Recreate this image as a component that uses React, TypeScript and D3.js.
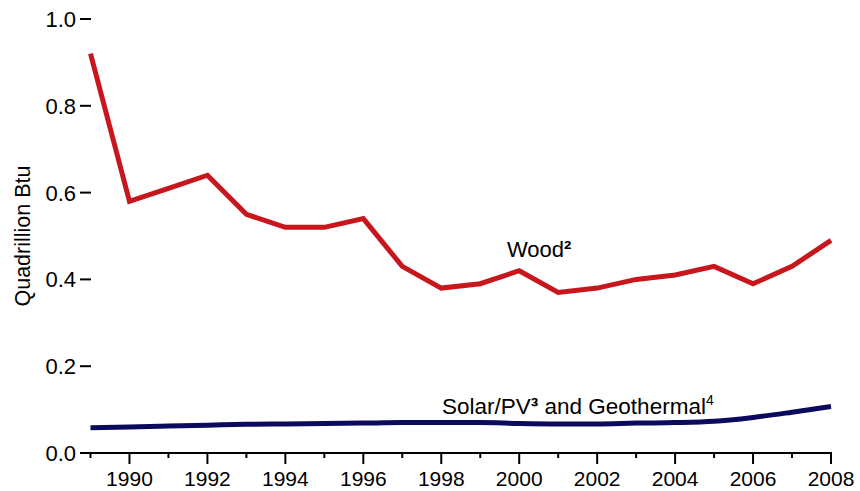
import React from "react";
import * as d3 from "d3";

const years = [1989, 1990, 1991, 1992, 1993, 1994, 1995, 1996, 1997, 1998, 1999, 2000, 2001, 2002, 2003, 2004, 2005, 2006, 2007, 2008];
const wood = [0.92, 0.58, 0.61, 0.64, 0.55, 0.52, 0.52, 0.54, 0.43, 0.38, 0.39, 0.42, 0.37, 0.38, 0.40, 0.41, 0.43, 0.39, 0.43, 0.49];
const solarGeo = [0.058, 0.060, 0.062, 0.064, 0.066, 0.067, 0.068, 0.069, 0.070, 0.070, 0.070, 0.068, 0.067, 0.067, 0.069, 0.070, 0.073, 0.082, 0.094, 0.107];
const yTicks = [0, 0.2, 0.4, 0.6, 0.8, 1.0];
const xLabelYears = [1990, 1992, 1994, 1996, 1998, 2000, 2002, 2004, 2006, 2008];
const yTitle = "Quadrillion Btu";

export default function App() {
  const W = 860, H = 491;
  const x = d3.scaleLinear().domain([1989, 2008]).range([90.5, 831]);
  const y = d3.scaleLinear().domain([0, 1]).range([453, 19]);
  const font = "'Liberation Sans', Arial, sans-serif";

  const woodLine = d3.line<number>().x((_, i) => x(years[i])).y((d) => y(d));
  const solarLine = d3.line<number>().x((_, i) => x(years[i])).y((d) => y(d)).curve(d3.curveMonotoneX);

  return (
    <svg width={W} height={H} style={{ position: "absolute", left: 0, top: 0, background: "#fff" }} fontFamily={font}>
      {yTicks.map((t) => (
        <g key={t}>
          <line x1={80} x2={91} y1={y(t)} y2={y(t)} stroke="#000" strokeWidth={2} />
          <text x={76} y={y(t) + 8} textAnchor="end" fontSize={22} fill="#000">{t.toFixed(1)}</text>
        </g>
      ))}
      <line x1={80} x2={832} y1={y(0)} y2={y(0)} stroke="#000" strokeWidth={2} />
      {years.map((yr) => (
        <line key={yr} x1={x(yr)} x2={x(yr)} y1={y(0)} y2={y(0) + (yr % 2 === 0 ? 11 : 5)} stroke="#000" strokeWidth={2} />
      ))}
      {xLabelYears.map((yr) => (
        <text key={yr} x={x(yr)} y={486} textAnchor="middle" fontSize={21} fill="#000">{yr}</text>
      ))}
      <text transform={`translate(30,236) rotate(-90)`} textAnchor="middle" fontSize={21.5} fill="#000">{yTitle}</text>

      <path d={solarLine(solarGeo) || ""} fill="none" stroke="#0b0b5e" strokeWidth={5} />
      <path d={woodLine(wood) || ""} fill="none" stroke="#c8161d" strokeWidth={5} strokeLinejoin="miter" />

      <text x={507} y={257} fontSize={22} fill="#000">Wood<tspan fontWeight="bold">²</tspan></text>
      <text x={442} y={414} fontSize={22.5} fill="#000">
        Solar/PV<tspan fontWeight="bold">³</tspan> and Geothermal<tspan fontSize={14} dy={-9}>4</tspan>
      </text>
    </svg>
  );
}
